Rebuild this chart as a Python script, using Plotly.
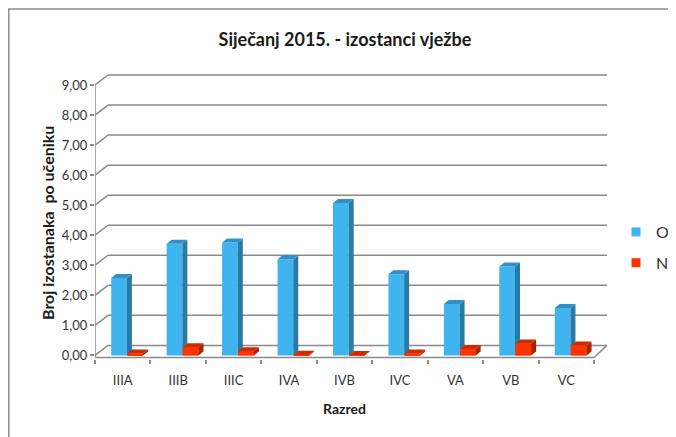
import plotly.graph_objects as go

# ---- data ----
categories = ["IIIA", "IIIB", "IIIC", "IVA", "IVB", "IVC", "VA", "VB", "VC"]
series_O = [2.58, 3.72, 3.76, 3.20, 5.07, 2.70, 1.71, 2.96, 1.58]
series_N = [0.06, 0.27, 0.14, 0.02, 0.01, 0.06, 0.21, 0.40, 0.33]
y_ticks = [0, 1, 2, 3, 4, 5, 6, 7, 8, 9]
y_tick_labels = ["0,00", "1,00", "2,00", "3,00", "4,00", "5,00", "6,00", "7,00", "8,00", "9,00"]
series_names = ["O", "N"]

# ---- layout geometry (pixels -> data units); page has an 8px body offset ----
OFS = 8
W_FIG, H_FIG = 676, 437
M_L, M_T = 95 - OFS, 73 - OFS
M_R = W_FIG - (608 - OFS)
M_B = H_FIG - (359 - OFS)
plot_w = W_FIG - M_L - M_R
plot_h = H_FIG - M_T - M_B
X0, X1 = -0.5, len(categories) - 0.5
XR = (X0, 8.753)
YR = (-0.12, 9.4)
PXU_X = plot_w / (XR[1] - XR[0])
PXU_Y = plot_h / (YR[1] - YR[0])
DX = 13 / PXU_X          # back-wall offset
DY = 10 / PXU_Y
SX = 5 / PXU_X           # bar side depth
SY = 4 / PXU_Y
BW = 15.7 / PXU_X        # bar front width
OFF_O = -11.5 / PXU_X
OFF_N = OFF_O + BW + 0.4 / PXU_X
FLOOR_Y = -0.07

GRID = "#8a8a8a"
C_O = ("#3fb4ef", "#2a7aa6", "#3190c6")
C_N = ("#ff3300", "#a82400", "#cc2c00")

x_idx = list(range(len(categories)))

fig = go.Figure()


def side_top_polys(values, off):
    sx_, sy_, tx_, ty_ = [], [], [], []
    for i, v in zip(x_idx, values):
        a = i + off
        b = a + BW
        sx_ += [b, b + SX, b + SX, b, b, None]
        sy_ += [0, SY, v + SY, v, 0, None]
        tx_ += [a, a + SX, b + SX, b, a, None]
        ty_ += [v, v + SY, v + SY, v, v, None]
    return sx_, sy_, tx_, ty_


def front_polys(values, off):
    fx, fy = [], []
    for i, v in zip(x_idx, values):
        a = i + off
        b = a + BW
        fx += [a, b, b, a, a, None]
        fy += [0, 0, v, v, 0, None]
    return fx, fy


# front faces as bars
fig.add_trace(go.Bar(x=x_idx, y=series_O, width=BW, offset=OFF_O, name="O",
                     marker=dict(color=C_O[0], line=dict(width=0)), showlegend=False))
fig.add_trace(go.Bar(x=x_idx, y=series_N, width=BW, offset=OFF_N, name="N",
                     marker=dict(color=C_N[0], line=dict(width=0)), showlegend=False))

# blue side / top faces
sx_, sy_, tx_, ty_ = side_top_polys(series_O, OFF_O)
fig.add_trace(go.Scatter(x=sx_, y=sy_, fill="toself", fillcolor=C_O[1], mode="none",
                         showlegend=False, hoverinfo="skip"))
fig.add_trace(go.Scatter(x=tx_, y=ty_, fill="toself", fillcolor=C_O[2], mode="none",
                         showlegend=False, hoverinfo="skip"))
# red front (re-drawn above blue sides), side, top
fx, fy = front_polys(series_N, OFF_N)
fig.add_trace(go.Scatter(x=fx, y=fy, fill="toself", fillcolor=C_N[0], mode="none",
                         showlegend=False, hoverinfo="skip"))
sx_, sy_, tx_, ty_ = side_top_polys(series_N, OFF_N)
fig.add_trace(go.Scatter(x=sx_, y=sy_, fill="toself", fillcolor=C_N[1], mode="none",
                         showlegend=False, hoverinfo="skip"))
fig.add_trace(go.Scatter(x=tx_, y=ty_, fill="toself", fillcolor=C_N[2], mode="none",
                         showlegend=False, hoverinfo="skip"))

# legend entries
for nm, col in zip(series_names, [C_O[0], C_N[0]]):
    fig.add_trace(go.Scatter(x=[None], y=[None], mode="markers", name=nm, legendgroup=nm,
                             marker=dict(symbol="square", size=9, color=col)))

# gridlines / walls as shapes below the traces
shapes = []
line = dict(color=GRID, width=1.5)
for v in y_ticks:
    shapes.append(dict(type="line", layer="below", x0=X0, y0=v, x1=X0 + DX, y1=v + DY, line=line))
    shapes.append(dict(type="line", layer="below", x0=X0 + DX, y0=v + DY, x1=X1 + DX, y1=v + DY, line=line))
shapes.append(dict(type="line", layer="below", x0=X0, y0=FLOOR_Y, x1=X0, y1=y_ticks[-1], line=line))
shapes.append(dict(type="line", layer="below", x0=X0, y0=FLOOR_Y, x1=X1, y1=FLOOR_Y, line=line))
shapes.append(dict(type="line", layer="below", x0=X1, y0=FLOOR_Y, x1=X1 + DX, y1=DY, line=line))
# outer chart frame (cut by the window)
shapes.append(dict(type="rect", xref="paper", yref="paper",
                   x0=(0.75 - M_L) / plot_w, x1=(W_FIG + 10 - M_L) / plot_w,
                   y0=1 - (H_FIG + 10 - M_T) / plot_h, y1=1 - (9 - OFS - M_T) / plot_h,
                   line=dict(color="#8c8c8c", width=1.5), fillcolor="rgba(0,0,0,0)"))

FONT = "Lato, 'Liberation Sans', sans-serif"
TXT = "#333333"

fig.update_layout(
    width=W_FIG, height=H_FIG,
    margin=dict(l=M_L, r=M_R, t=M_T, b=M_B, pad=0, autoexpand=False),
    paper_bgcolor="white", plot_bgcolor="white",
    barmode="overlay",
    shapes=shapes,
    font=dict(family=FONT, size=13, color=TXT),
    title=dict(text="<b>Siječanj 2015. - izostanci vježbe</b>", x=(345 - OFS) / W_FIG, xanchor="center",
               y=1 - (40 - OFS) / H_FIG, yanchor="middle", font=dict(family=FONT, size=18, color="#1a1a1a")),
    xaxis=dict(range=list(XR), tickmode="array", tickvals=x_idx, ticktext=categories,
               showgrid=False, zeroline=False, showline=False, ticks="",
               ticklabelstandoff=12, tickfont=dict(size=13, color=TXT),
               minor=dict(tickmode="array", tickvals=[i - 0.5 for i in range(len(categories) + 1)],
                          ticks="outside", ticklen=4, tickwidth=1.5, tickcolor=GRID)),
    yaxis=dict(range=list(YR), tickmode="array", tickvals=y_ticks, ticktext=y_tick_labels,
               showgrid=False, zeroline=False, showline=False,
               ticks="outside", ticklen=4, tickwidth=1.5, tickcolor=GRID,
               tickfont=dict(size=13, color=TXT)),
    legend=dict(x=(616 - OFS - M_L) / plot_w, xanchor="left", y=1 - (215 - OFS - M_T) / plot_h, yanchor="top",
                font=dict(size=16, color=TXT), tracegroupgap=7, bgcolor="rgba(0,0,0,0)",
                itemclick=False),
    annotations=[
        dict(text="<b>Broj izostanaka  po učeniku</b>", textangle=-90, xref="paper", yref="paper",
             x=(47 - OFS - M_L) / plot_w, y=1 - (223 - OFS - M_T) / plot_h, xanchor="center", yanchor="middle",
             showarrow=False, font=dict(family=FONT, size=16, color="#1a1a1a")),
        dict(text="<b>Razred</b>", xref="paper", yref="paper",
             x=(344 - OFS - M_L) / plot_w, y=1 - (408 - OFS - M_T) / plot_h, xanchor="center", yanchor="middle",
             showarrow=False, font=dict(family=FONT, size=14, color="#1a1a1a")),
    ],
)

fig.write_html("out.html")
